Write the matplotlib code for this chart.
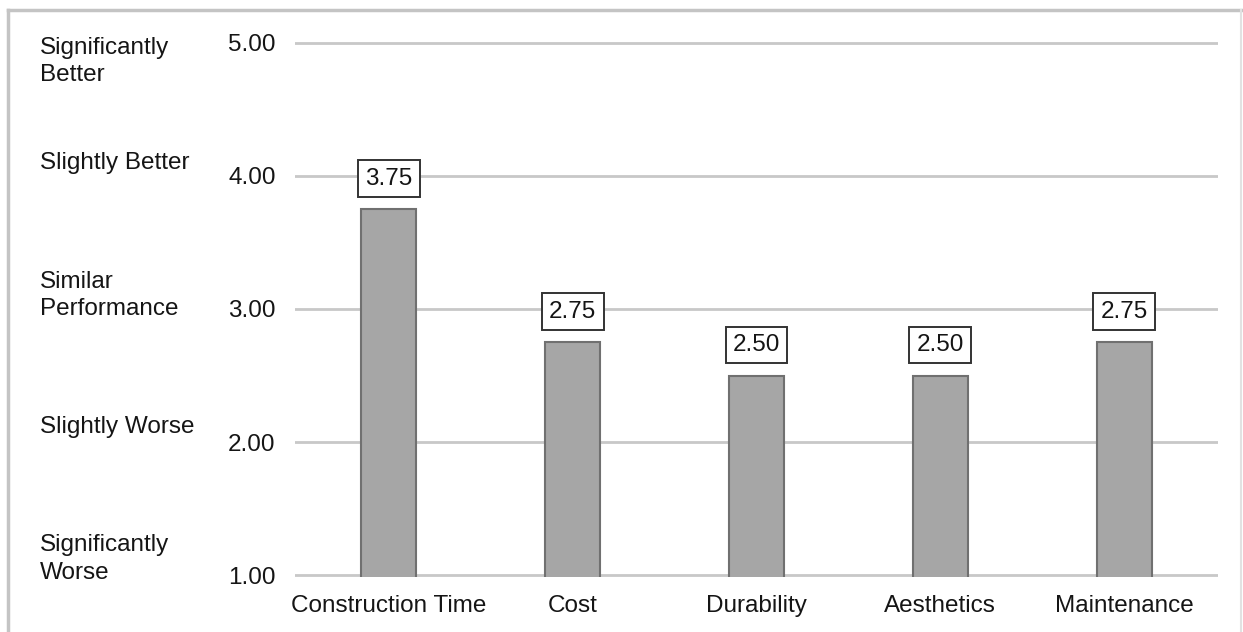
import matplotlib
matplotlib.use("Agg")

import matplotlib.pyplot as plt
import matplotlib.transforms as mtransforms
from matplotlib.lines import Line2D

plt.rcParams["font.family"] = ["Liberation Sans", "DejaVu Sans"]

categories = ["Construction Time", "Cost", "Durability", "Aesthetics", "Maintenance"]
scores = [3.75, 2.75, 2.50, 2.50, 2.75]

y_ticks = [1.00, 2.00, 3.00, 4.00, 5.00]
scale_labels = ["Significantly\nWorse", "Slightly Worse", "Similar\nPerformance",
                "Slightly Better", "Significantly\nBetter"]
# where each scale label sits (data y) next to the tick column
scale_label_y = [1.12, 2.11, 3.10, 4.10, 4.86]

W, H = 1243, 632
FS = 17.5
INK = "#151515"

fig = plt.figure(figsize=(W / 100, H / 100), dpi=100)
ax = fig.add_axes([295 / W, 1 - 577 / H, 923 / W, 536 / H])

x = range(len(categories))
ax.bar(x, scores, width=0.30, bottom=0, color="#a6a6a6", edgecolor="#707070",
       linewidth=1.5, zorder=2)

for xi, v in zip(x, scores):
    ax.annotate(f"{v:.2f}", (xi, v), xytext=(0, 22), textcoords="offset points",
                ha="center", va="center", fontsize=FS, color=INK, zorder=4,
                bbox=dict(boxstyle="square,pad=0.3", fc="white", ec="#333333", lw=1.4))

ax.set_xlim(-0.51, 4.51)
ax.set_ylim(0.985, 5.015)
ax.set_yticks(y_ticks)
ax.set_yticklabels([f"{t:.2f}" for t in y_ticks], fontsize=FS, color=INK)
ax.set_xticks(list(x))
ax.set_xticklabels(categories, fontsize=FS, color=INK)
ax.tick_params(axis="both", length=0)
ax.tick_params(axis="y", pad=14)
ax.tick_params(axis="x", pad=13)
ax.yaxis.grid(True, color="#c8c8c8", linewidth=2)
ax.set_axisbelow(True)
for s in ax.spines.values():
    s.set_visible(False)

# scale labels sit in the left margin: x in figure coords, y in data coords
label_trans = mtransforms.blended_transform_factory(fig.transFigure, ax.transData)
for lab, yv in zip(scale_labels, scale_label_y):
    ax.text(40 / W, yv, lab, transform=label_trans, fontsize=FS, color=INK,
            ha="left", va="center", linespacing=1.3, clip_on=False)

# outer frame around the chart
fig.add_artist(Line2D([8 / W, 1], [1 - 10 / H] * 2, transform=fig.transFigure,
                      color="#c4c4c4", lw=2.5))
fig.add_artist(Line2D([8 / W] * 2, [0, 1 - 10 / H], transform=fig.transFigure,
                      color="#c4c4c4", lw=2.5))
fig.add_artist(Line2D([1241 / W] * 2, [0, 1 - 10 / H], transform=fig.transFigure,
                      color="#e2e2e2", lw=1.5))

fig.savefig("out.png", dpi=100, facecolor="white")
